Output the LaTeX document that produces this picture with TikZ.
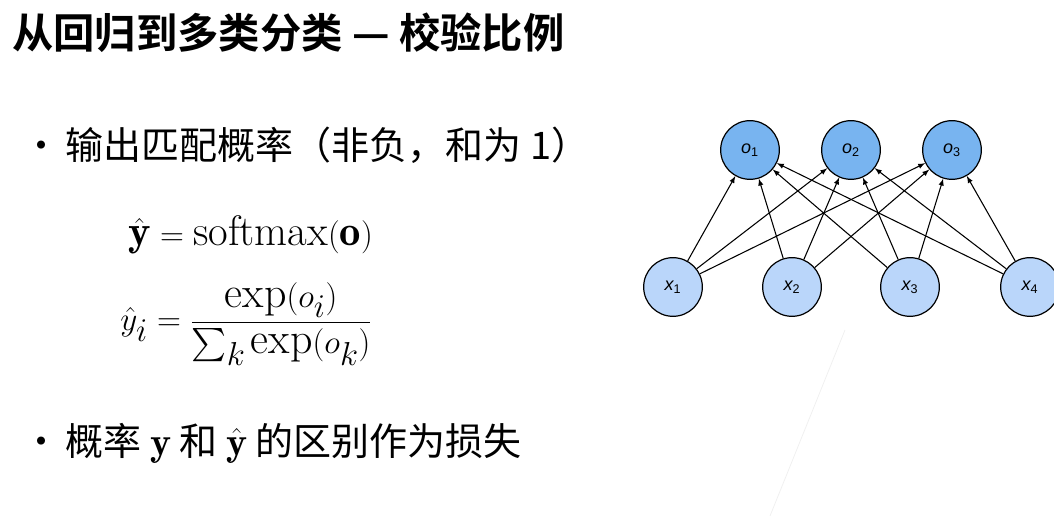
\documentclass[tikz,border=0pt]{standalone}
\usepackage{amsmath}
\usepackage{fontspec}
\newfontfamily\cjk{Noto Sans CJK SC}[BoldFont={Noto Sans CJK SC Bold}]
\newfontfamily\lsans{Liberation Sans}
\begin{document}
\begin{tikzpicture}[x=0.75pt,y=-0.75pt,
  neu/.style={circle,draw=black,line width=0.9pt,minimum size=44pt,inner sep=0pt,font=\lsans\itshape\fontsize{13.5}{16}\selectfont},
  onode/.style={neu,fill={rgb,255:red,120;green,180;blue,240}},
  xnode/.style={neu,fill={rgb,255:red,186;green,214;blue,250}},
  conn/.style={-latex,line width=0.8pt},
  txt/.style={anchor=west,inner sep=0pt,font=\cjk\fontsize{28.5}{34}\selectfont}]
\useasboundingbox (0,0) rectangle (1054,516);
\node[anchor=west,inner sep=0pt,font=\cjk\bfseries\fontsize{31}{36}\selectfont] (title) at (12,33) {从回归到多类分类 — 校验比例};
\node[txt] (b1) at (22,145) {·\hspace{4pt}输出匹配概率（非负，和为 1）};
\node[anchor=west,inner sep=0pt,font=\fontsize{32}{38}\selectfont] (e1) at (128,235) {$\hat{\mathbf{y}} = \mathrm{softmax}(\mathbf{o})$};
\node[anchor=west,inner sep=0pt,font=\fontsize{33}{40}\selectfont] (e2) at (120,324) {$\displaystyle \hat{y}_i = \frac{\exp(o_i)}{\sum_k \exp(o_k)}$};
\node[txt] (b2) at (22,443) {·\hspace{4pt}概率 {\fontsize{30}{36}\selectfont$\mathbf{y}$} 和 {\fontsize{30}{36}\selectfont$\hat{\mathbf{y}}$} 的区别作为损失};
\node[onode] (o1) at (750,150) {o\textsubscript{\upshape1}};
\node[onode] (o2) at (851,150) {o\textsubscript{\upshape2}};
\node[onode] (o3) at (952,150) {o\textsubscript{\upshape3}};
\node[xnode] (x1) at (673,287) {x\textsubscript{\upshape1}};
\node[xnode] (x2) at (792,287) {x\textsubscript{\upshape2}};
\node[xnode] (x3) at (910,287) {x\textsubscript{\upshape3}};
\node[xnode] (x4) at (1030,287) {x\textsubscript{\upshape4}};
\foreach \x in {x1,x2,x3,x4}{\foreach \o in {o1,o2,o3}{\draw[conn] (\x) -- (\o);}}
\coordinate (fa) at (845,330); \coordinate (fb) at (770,516);
\draw[black!6,line width=0.6pt] (fa) -- (fb);
\end{tikzpicture}
\end{document}
